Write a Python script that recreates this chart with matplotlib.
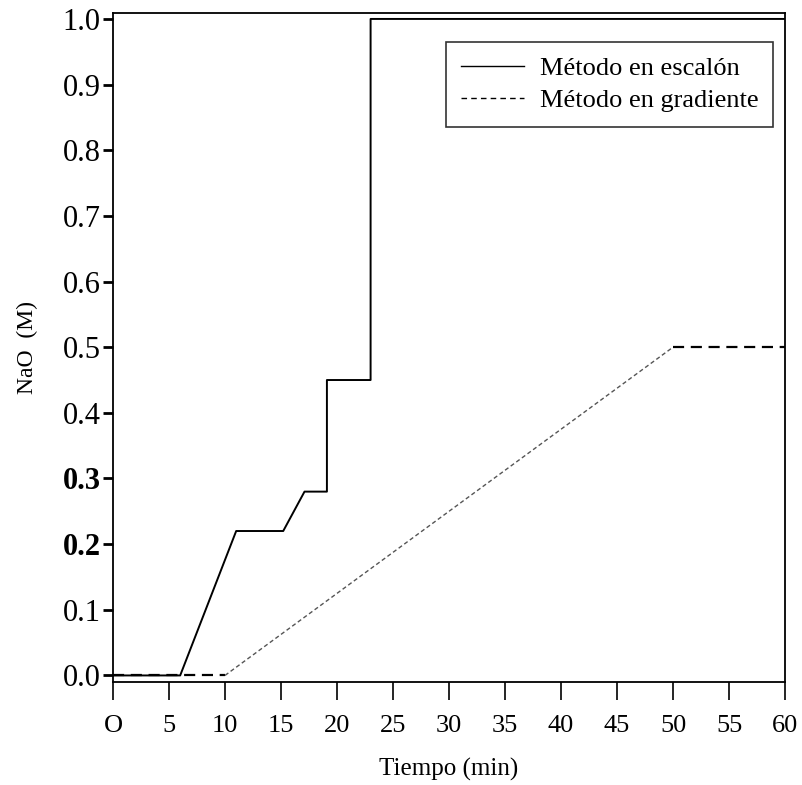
import matplotlib
matplotlib.use("Agg")
import matplotlib.pyplot as plt
from matplotlib.lines import Line2D

# Data
step_t = [0, 6, 11, 15.2, 17.1, 19.1, 19.1, 23.0, 23.0, 60]
step_c = [0, 0, 0.22, 0.22, 0.28, 0.28, 0.45, 0.45, 1.0, 1.0]
grad_t = [0, 10, 50, 60]
grad_c = [0, 0, 0.5, 0.5]
x_ticks = [0, 5, 10, 15, 20, 25, 30, 35, 40, 45, 50, 55, 60]
x_labels = ["O", "5", "10", "15", "20", "25", "30", "35", "40", "45", "50", "55", "60"]
y_ticks = [0.0, 0.1, 0.2, 0.3, 0.4, 0.5, 0.6, 0.7, 0.8, 0.9, 1.0]
y_labels = ["0.0", "0.1", "0.2", "0.3", "0.4", "0.5", "0.6", "0.7", "0.8", "0.9", "1.0"]
series_names = ["Método en escalón", "Método en gradiente"]

plt.rcParams['font.family'] = ['Liberation Serif', 'DejaVu Serif']

fig = plt.figure(figsize=(8.03, 7.85), dpi=100)
ax = fig.add_axes([0.1407, 0.1312, 0.8369, 0.8522])

# gradient: flat parts dashed, ramp dotted/lighter
ax.plot(grad_t[:2], grad_c[:2], color='black', lw=1.6, ls=(0, (5, 3)))
ax.plot(grad_t[1:3], grad_c[1:3], color='#555555', lw=1.0, ls=(0, (3, 2)))
ax.plot(grad_t[2:], grad_c[2:], color='black', lw=1.6, ls=(0, (5, 3)))
ax.plot(step_t, step_c, color='black', lw=1.4)

ax.set_xlim(0, 60)
ax.set_ylim(-0.01, 1.009)
ax.set_xticks(x_ticks)
ax.set_xticklabels(x_labels, fontsize=19)
ax.set_yticks(y_ticks)
ax.set_yticklabels(y_labels, fontsize=22)
for lbl in ax.get_yticklabels():
    if lbl.get_text() in ("0.2", "0.3"):
        lbl.set_fontweight('bold')
ax.tick_params(axis='x', direction='out', length=13, width=1.2, pad=11)
ax.tick_params(axis='y', direction='out', length=7, width=2, pad=2)
for s in ax.spines.values():
    s.set_linewidth(1.3)

ax.set_xlabel("Tiempo (min)", fontsize=18)
ax.set_ylabel("NaO  (M)", fontsize=17)
ax.xaxis.set_label_coords(0.5, -0.114)
ax.yaxis.set_label_coords(-0.112, 0.5)

handles = [Line2D([], [], color='black', lw=1.0),
           Line2D([], [], color='black', lw=1.0, ls=(0, (4, 3)))]
leg = ax.legend(handles, series_names, loc='upper right', bbox_to_anchor=(0.982, 0.957),
                borderaxespad=0, fontsize=19, handlelength=2.4, handletextpad=0.6,
                frameon=True, fancybox=False, edgecolor='black', borderpad=0.55,
                labelspacing=0.35)
leg.get_frame().set_linewidth(1.2)

fig.savefig("out.png", dpi=100)
